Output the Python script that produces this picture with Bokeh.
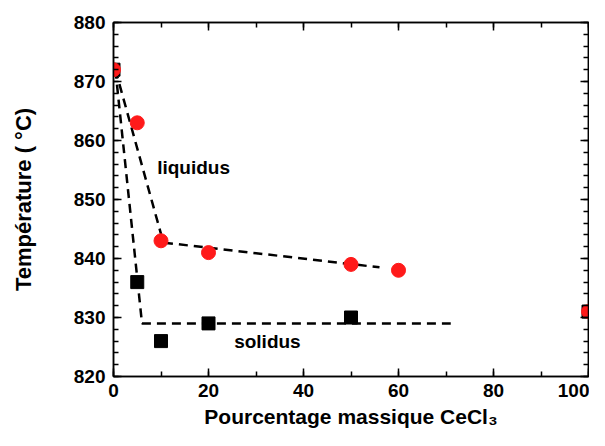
from bokeh.plotting import figure
from bokeh.models import LinearAxis, SingleIntervalTicker, Range1d, Label, CustomJSTickFormatter
from bokeh.embed import file_html
from bokeh.resources import INLINE

# Data
liq_x = [0, 5, 10, 20, 50, 60, 100]
liq_y = [872, 863, 843, 841, 839, 838, 831]
sol_x = [0, 5, 10, 20, 50, 100]
sol_y = [872, 836, 826, 829, 830, 831]
liq_line_x = [0.4, 10.5, 56]
liq_line_y = [872, 842.7, 838.5]
sol_line_x = [0.4, 6.0, 71]
sol_line_y = [872, 829, 829]

FONT = "Liberation Sans"

p = figure(width=589, height=430, output_backend="svg", toolbar_location=None,
           x_range=Range1d(0, 100), y_range=Range1d(820, 880),
           min_border_left=113, min_border_top=22, min_border_right=1,
           min_border_bottom=10)
p.frame_width = 475
p.frame_height = 354
p.grid.visible = False
p.outline_line_color = "black"
p.outline_line_width = 1.5
p.background_fill_color = "white"

p.xaxis.ticker = SingleIntervalTicker(interval=20, num_minor_ticks=2)
p.yaxis.ticker = SingleIntervalTicker(interval=10, num_minor_ticks=5)

for ax in (p.xaxis[0], p.yaxis[0]):
    ax.major_tick_in = 8
    ax.major_tick_out = 0
    ax.minor_tick_in = 5
    ax.minor_tick_out = 0
    ax.axis_line_width = 1.5
    ax.major_tick_line_width = 1.5
    ax.minor_tick_line_width = 1.5
    ax.major_label_text_font = FONT
    ax.major_label_text_font_style = "bold"
    ax.major_label_text_font_size = "19px"
    ax.major_label_text_color = "black"
    ax.axis_label_text_font = FONT
    ax.axis_label_text_font_style = "bold"
    ax.axis_label_text_color = "black"

p.xaxis.axis_label = "Pourcentage massique CeCl₃"
p.yaxis.axis_label = "Température ( °C)"
p.xaxis.axis_label_text_font_size = "21px"
p.yaxis.axis_label_text_font_size = "22px"
p.xaxis.major_label_standoff = 7
p.xaxis.axis_label_standoff = 5
p.yaxis.major_label_standoff = 8
p.yaxis.axis_label_standoff = 35

top = LinearAxis(ticker=SingleIntervalTicker(interval=20, num_minor_ticks=2))
right = LinearAxis(ticker=SingleIntervalTicker(interval=10, num_minor_ticks=5))
for ax in (top, right):
    ax.major_tick_in = 8
    ax.major_tick_out = 0
    ax.minor_tick_in = 5
    ax.minor_tick_out = 0
    ax.axis_line_width = 1.5
    ax.major_tick_line_width = 1.5
    ax.minor_tick_line_width = 1.5
    ax.formatter = CustomJSTickFormatter(code="return ''")
    ax.major_label_standoff = 0
p.add_layout(top, "above")
p.add_layout(right, "right")

p.line(liq_line_x, liq_line_y, line_color="black", line_width=2.5, line_dash="9 6")
p.line(sol_line_x, sol_line_y, line_color="black", line_width=2.5, line_dash="9 6")
p.scatter(sol_x, sol_y, marker="square", size=13, fill_color="black", line_color="black")
p.scatter(liq_x, liq_y, marker="circle", size=14, fill_color="#ff1a1a", line_color="#ff1a1a")

p.add_layout(Label(x=9.2, y=855.5, text="liquidus", text_font=FONT, text_font_style="bold",
                   text_font_size="19px", text_baseline="middle", text_align="left",
                   text_color="black"))
p.add_layout(Label(x=25.4, y=826.0, text="solidus", text_font=FONT, text_font_style="bold",
                   text_font_size="19px", text_baseline="middle", text_align="left",
                   text_color="black"))

open("out.html", "w").write(file_html(p, INLINE))
